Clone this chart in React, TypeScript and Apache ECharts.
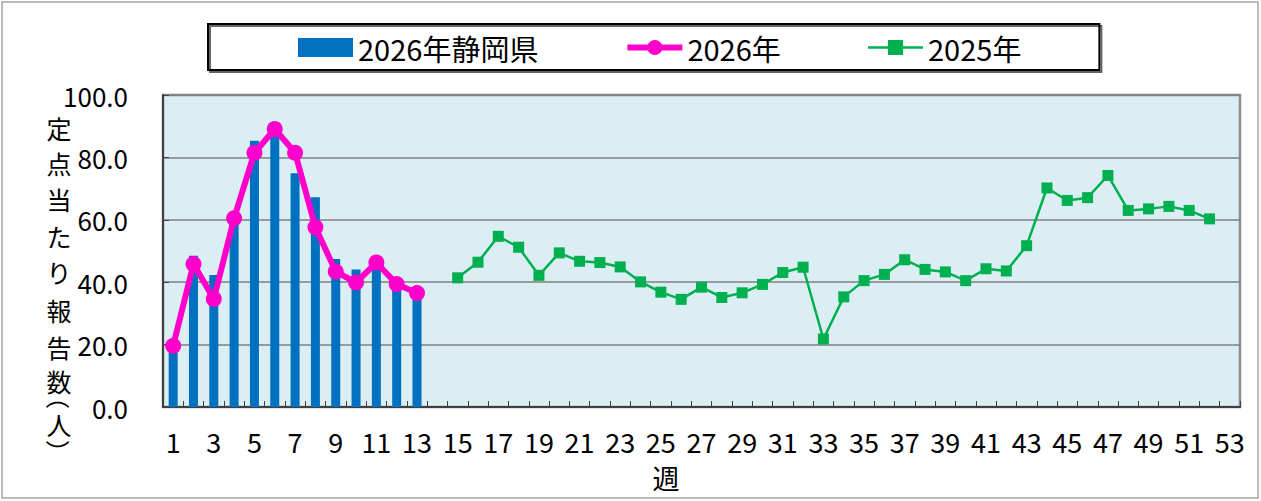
import React, { useEffect, useRef } from "react";
import * as echarts from "echarts";

const weeks = [
  "1", "2", "3", "4", "5", "6", "7", "8", "9", "10", "11", "12", "13", "14", "15", "16", "17", "18",
  "19", "20", "21", "22", "23", "24", "25", "26", "27", "28", "29", "30", "31", "32", "33", "34", "35",
  "36", "37", "38", "39", "40", "41", "42", "43", "44", "45", "46", "47", "48", "49", "50", "51", "52", "53",
];

// 2026 Shizuoka prefecture (bars), weeks 1-13
const shizuoka2026 = [19, 48.5, 42.3, 59, 85.3, 87.5, 74.9, 67.2, 47.4, 44.1, 44.5, 39, 36];
// 2026 (line), weeks 1-13
const nat2026 = [19.6, 45.8, 34.6, 60.5, 81.5, 89.1, 81.5, 57.6, 43.4, 39.9, 46.3, 39.4, 36.5];
// 2025 (line), weeks 15-52
const nat2025Start = 15;
const nat2025 = [
  41.4, 46.4, 54.7, 51.2, 42.2, 49.4, 46.7, 46.3, 44.9, 40.1, 36.8, 34.5, 38.4, 35.1, 36.6, 39.3,
  43.1, 44.8, 21.8, 35.3, 40.5, 42.5, 47.2, 44.1, 43.3, 40.5, 44.3, 43.6, 51.7, 70.2, 66.2, 67.1,
  74.2, 63.0, 63.5, 64.3, 63.0, 60.3,
];

const yTicks = [0, 20, 40, 60, 80, 100];
const yName = ["定", "点", "当", "た", "り", "報", "告", "数", "（", "人", "）"];
const yNameY = [128, 163, 199, 236, 272, 310, 347, 381, 397, 424, 452];
const xName = "週";

const FONT = "'Noto Sans CJK JP', 'Noto Sans', sans-serif";

function pad(values: number[], start: number): (number | null)[] {
  return weeks.map((_, i) => {
    const j = i - (start - 1);
    return j >= 0 && j < values.length ? values[j] : null;
  });
}

export default function App() {
  const ref = useRef<HTMLDivElement>(null);
  useEffect(() => {
    if (!ref.current) return;
    const chart = echarts.init(ref.current, undefined, { renderer: "svg" });
    const graphics: any[] = [
      {
        type: "rect",
        shape: { x: 2, y: 2, width: 1256, height: 496 },
        style: { fill: "none", stroke: "#A6A6A6", lineWidth: 1.5 },
        silent: true,
        z: -10,
      },
      {
        type: "text",
        x: 666,
        y: 477,
        style: {
          text: xName,
          fontSize: 27,
          fontFamily: FONT,
          fill: "#000",
          align: "center",
          verticalAlign: "middle",
        },
      },
    ];
    yName.forEach((ch, i) => {
      const isParen = ch === "（" || ch === "）";
      graphics.push({
        type: "text",
        x: 59,
        y: yNameY[i],
        rotation: isParen ? -Math.PI / 2 : 0,
        style: {
          text: ch,
          fontSize: isParen ? 24 : 25,
          lineHeight: isParen ? 24 : 27,
          fontFamily: FONT,
          fill: "#000",
          align: "center",
          verticalAlign: "middle",
        },
      });
    });

    chart.setOption({
      animation: false,
      backgroundColor: "#fff",
      textStyle: { fontFamily: FONT },
      legend: {
        left: 208,
        top: 24,
        padding: [9, 78, 8, 90],
        borderColor: "#000",
        borderWidth: 2,
        shadowColor: "rgba(0,0,0,0.6)",
        shadowOffsetX: 2,
        shadowOffsetY: 2,
        shadowBlur: 0,
        itemWidth: 55,
        itemHeight: 19,
        itemGap: 86,
        textStyle: { fontSize: 29, fontFamily: FONT, color: "#000" },
        data: [
          { name: "2026年静岡県", icon: "rect" },
          { name: "2026年", lineStyle: { width: 6, color: "#FF00CC" } },
          { name: "2025年", lineStyle: { width: 2.5, color: "#00B050" } },
        ],
      },
      grid: {
        left: 163,
        right: 21,
        top: 95,
        bottom: 94,
        show: true,
        backgroundColor: "#DAEEF3",
        borderColor: "#8C8C8C",
        borderWidth: 2.5,
      },
      xAxis: {
        type: "category",
        data: weeks,
        boundaryGap: true,
        axisLine: { show: true, lineStyle: { color: "#404040", width: 2 } },
        axisTick: {
          show: true,
          inside: true,
          length: 6,
          interval: 0,
          lineStyle: { color: "#404040", width: 1 },
        },
        axisLabel: {
          interval: 1,
          fontSize: 27,
          color: "#000",
          margin: 21,
          fontFamily: FONT,
        },
        splitLine: { show: false },
      },
      yAxis: {
        type: "value",
        min: yTicks[0],
        max: yTicks[yTicks.length - 1],
        interval: 20,
        axisLine: { show: true, lineStyle: { color: "#404040", width: 2 } },
        axisTick: { show: true, inside: true, length: 6, lineStyle: { color: "#404040" } },
        axisLabel: {
          fontSize: 26,
          color: "#000",
          margin: 35,
          fontFamily: FONT,
          formatter: (v: number) => v.toFixed(1),
        },
        splitLine: { show: true, lineStyle: { color: "#7F7F7F", width: 1.5 } },
      },
      series: [
        {
          name: "2026年静岡県",
          type: "bar",
          data: pad(shizuoka2026, 1),
          barWidth: 9,
          itemStyle: { color: "#0070C0" },
          z: 2,
        },
        {
          name: "2026年",
          type: "line",
          data: pad(nat2026, 1),
          symbol: "circle",
          symbolSize: 16,
          showAllSymbol: true,
          lineStyle: { color: "#FF00CC", width: 6 },
          itemStyle: { color: "#FF00CC" },
          z: 4,
        },
        {
          name: "2025年",
          type: "line",
          data: pad(nat2025, nat2025Start),
          symbol: "rect",
          symbolSize: 11,
          showAllSymbol: true,
          lineStyle: { color: "#00B050", width: 2.5 },
          itemStyle: { color: "#00B050" },
          z: 3,
        },
      ],
      graphic: graphics,
    });
    return () => chart.dispose();
  }, []);
  return (
    <div
      ref={ref}
      style={{ position: "fixed", left: 0, top: 0, width: 1261, height: 501 }}
    />
  );
}
